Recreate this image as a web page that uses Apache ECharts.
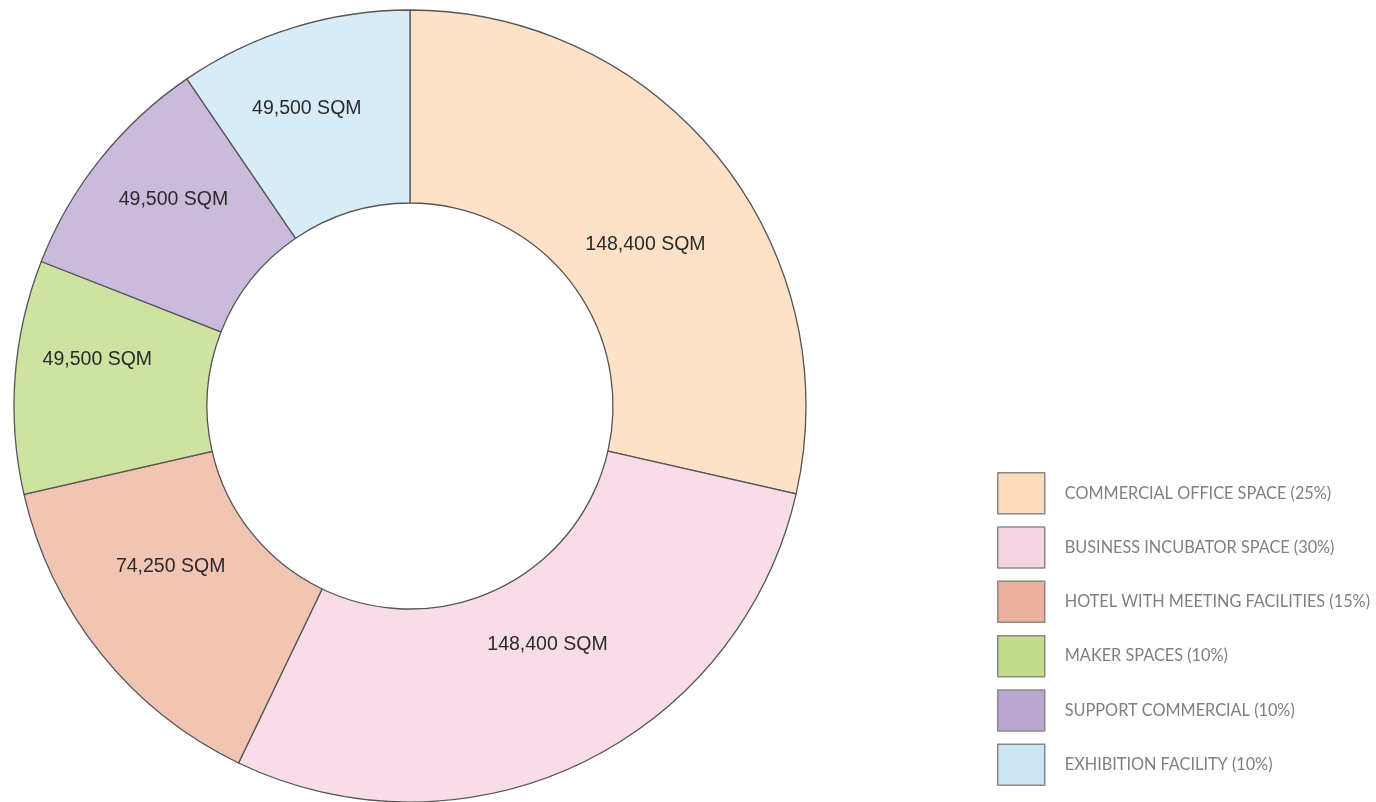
<!DOCTYPE html>
<html>
<head>
<meta charset="utf-8">
<script src="https://cdn.jsdelivr.net/npm/echarts@6/dist/echarts.min.js"></script>
<style>
  html, body { margin: 0; padding: 0; background: #fff; }
  #chart { width: 1376px; height: 802px; }
</style>
</head>
<body>
<div id="chart"></div>
<script>
// 面积分布
const categories = [
  "COMMERCIAL OFFICE SPACE (25%)",
  "BUSINESS INCUBATOR SPACE (30%)",
  "HOTEL WITH MEETING FACILITIES (15%)",
  "MAKER SPACES (10%)",
  "SUPPORT COMMERCIAL (10%)",
  "EXHIBITION FACILITY (10%)"
];
const areaValues = [148400, 148400, 74250, 49500, 49500, 49500];
const sliceColors = ["#FDE2C8", "#F8DCE8", "#F2C4B2", "#CEE2A2", "#CABBDD", "#D8ECF8"];
const legendColors = ["#FCDCBD", "#F6D4E4", "#EAB09B", "#C3DC8C", "#BAA7CF", "#CDE4F4"];
// label nudges (px) so text sits like the original
const labelNudge = [[-1, 27], [6, -34], [-3, -28], [-11, -24], [0, -18], [-14, -8]];

const chart = echarts.init(document.getElementById("chart"));

const option = {
  animation: false,
  legend: {
    orient: "vertical",
    left: 997,
    top: 472,
    padding: 0,
    itemWidth: 47,
    itemHeight: 41,
    itemGap: 11.8,
    icon: "rect",
    selectedMode: false,
    textStyle: {
      color: "#808080",
      fontFamily: "Lato",
      fontSize: 16.3,
      padding: [0, 0, 0, 15]
    },
    itemStyle: {
      borderColor: "#8a8a8a",
      borderWidth: 1.5
    },
    data: categories.map((name, i) => ({
      name: name,
      itemStyle: { color: legendColors[i] }
    }))
  },
  series: [
    {
      type: "pie",
      center: [410, 406],
      radius: [203, 396],
      startAngle: 90,
      clockwise: true,
      avoidLabelOverlap: false,
      itemStyle: {
        borderColor: "#555",
        borderWidth: 1.3
      },
      label: {
        show: true,
        position: "inside",
        color: "#2b2b2b",
        fontFamily: "Liberation Sans",
        fontSize: 19.5,
        formatter: (p) => p.value.toLocaleString("en-US") + " SQM"
      },
      labelLayout: (params) => ({
        dx: labelNudge[params.dataIndex][0],
        dy: labelNudge[params.dataIndex][1]
      }),
      emphasis: { disabled: true },
      data: categories.map((name, i) => ({
        name: name,
        value: areaValues[i],
        itemStyle: { color: sliceColors[i] }
      }))
    }
  ]
};

chart.setOption(option);
</script>
</body>
</html>
